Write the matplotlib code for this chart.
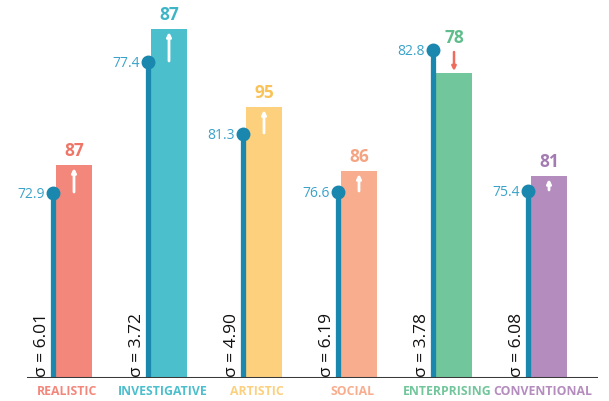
import numpy as np
import matplotlib.pyplot as plt

###################################################
#   数据
###################################################
categories = ['REALISTIC', 'INVESTIGATIVE', 'ARTISTIC', 'SOCIAL', 'ENTERPRISING', 'CONVENTIONAL']
new_scores = [87, 87, 95, 86, 78, 81]              # 柱顶标签
old_scores = [72.9, 77.4, 81.3, 76.6, 82.8, 75.4]  # 圆点标签
sigmas = ['6.01', '3.72', '4.90', '6.19', '3.78', '6.08']
# 图上的绘制高度（原图不按比例，直接从图上读出）
bar_heights = [213, 349, 271, 207, 305, 202]
stem_heights = [185, 316, 244, 186, 328, 187]

bar_colors = ['#f4877b', '#4cbfcd', '#fdd07e', '#f8ad8e', '#72c69b', '#b48cbe']
text_colors = ['#ef7566', '#3db5c6', '#f9c35a', '#f5a482', '#5ebd8b', '#a47ab2']
stem_color = '#1a87ae'
old_color = '#3aa2c9'

###################################################
#   绘图
###################################################
plt.rcParams['font.family'] = ['Open Sans', 'DejaVu Sans']

fig = plt.figure(figsize=(6.09, 4.01), dpi=100)
ax = fig.add_axes([27 / 609, 23 / 401, (598 - 27) / 609, 378 / 401])

x = np.arange(len(categories))
stem_x = x - 0.22
bar_w = 0.38

ax.bar(x, bar_heights, width=bar_w, color=bar_colors, zorder=1)

for i in range(len(categories)):
    # 竖线 + 圆点
    ax.plot([stem_x[i], stem_x[i]], [0, stem_heights[i]], color=stem_color, lw=3.8,
            solid_capstyle='butt', zorder=3)
    ax.plot(stem_x[i], stem_heights[i], 'o', color=stem_color, ms=9, zorder=4)
    ax.annotate(f'{old_scores[i]:.1f}', (stem_x[i], stem_heights[i]), xytext=(-6, -1),
                textcoords='offset points', ha='right', va='center',
                color=old_color, fontsize=10)

    # 箭头：旧值 -> 新值
    up = bar_heights[i] > stem_heights[i]
    if up:
        ax.annotate('', xy=(x[i], bar_heights[i] - 3), xytext=(x[i], stem_heights[i] + 1),
                    arrowprops=dict(arrowstyle='-|>', color='white', lw=2.0,
                                    mutation_scale=6, shrinkA=0, shrinkB=0), zorder=5)
    else:
        ax.annotate('', xy=(x[i], bar_heights[i] + 2), xytext=(x[i], stem_heights[i] - 2),
                    arrowprops=dict(arrowstyle='-|>', color='#ee6b5e', lw=1.8,
                                    mutation_scale=6, shrinkA=0, shrinkB=0), zorder=5)

    # 新值标签
    top = max(bar_heights[i], stem_heights[i]) if up else stem_heights[i] - 2
    ax.text(x[i], top + 14, str(new_scores[i]), ha='center', va='center',
            color=text_colors[i], fontsize=12.5, fontweight='bold')

    # σ
    ax.annotate(f'σ = {sigmas[i]}', (stem_x[i], 0), xytext=(-8, 1),
                textcoords='offset points', ha='center', va='bottom', rotation=90,
                color='#111111', fontsize=12.5)

    # 类别
    ax.annotate(categories[i], (x[i] - 0.07, 0), xytext=(0, -10),
                textcoords='offset points', ha='center', va='center',
                color=bar_colors[i], fontsize=8.8, fontweight='bold')

# 底线
ax.axhline(0, color='#3a3a3a', lw=2.2, zorder=6)

ax.set_xlim((27 - 74) / 95, (598 - 74) / 95)
ax.set_ylim(0, 378)
ax.axis('off')

fig.savefig('out.png', dpi=100)
